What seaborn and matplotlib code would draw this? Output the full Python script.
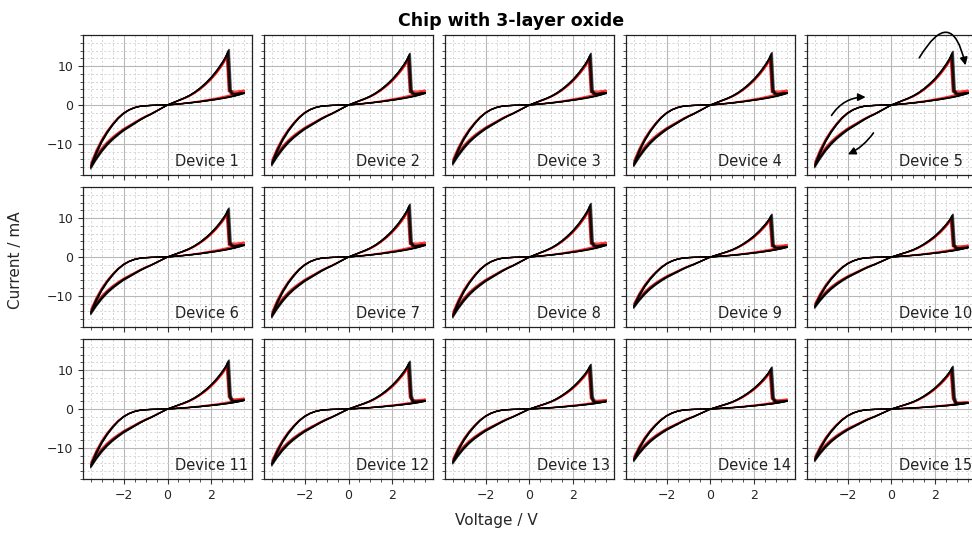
import numpy as np
import pandas as pd
import matplotlib
matplotlib.use("Agg")
import matplotlib.pyplot as plt
from matplotlib.ticker import MultipleLocator
import seaborn as sns

# Readings: one typical sweep (device 1 shape)
# 0 -> +3.5 V on the high state, reset near 2.75 V
POS_HIGH_V = [0.0, 0.25, 0.5, 0.75, 1.0, 1.25, 1.5, 1.75, 2.0, 2.25, 2.5, 2.65, 2.75]
POS_HIGH_I = [0.0, 0.6, 1.2, 1.8, 2.5, 3.4, 4.5, 5.8, 7.3, 9.1, 11.2, 12.7, 14.1]
# after the reset, up to +3.5 V
POS_AFTER_V = [2.84, 2.92, 3.1, 3.3, 3.5]
POS_AFTER_I = [7.5, 2.9, 2.85, 2.95, 3.05]
# +3.5 V -> 0 on the low state
POS_LOW_V = [3.5, 3.25, 3.0, 2.75, 2.5, 2.25, 2.0, 1.75, 1.5, 1.25, 1.0, 0.75, 0.5, 0.25, 0.0]
POS_LOW_I = [3.0, 2.6, 2.25, 1.95, 1.7, 1.45, 1.25, 1.05, 0.85, 0.68, 0.52, 0.38, 0.25, 0.12, 0.0]
# 0 -> -3.5 V
NEG_HIGH_V = [0.0, -0.25, -0.5, -0.75, -1.0, -1.25, -1.5, -1.75, -2.0, -2.25, -2.5, -2.75, -3.0, -3.25, -3.5]
NEG_HIGH_I = [0.0, -0.8, -1.6, -2.4, -3.1, -3.9, -4.8, -5.7, -6.6, -7.7, -8.9, -10.3, -12.0, -14.0, -16.3]
# -3.5 V -> 0
NEG_LOW_V = [-3.5, -3.25, -3.0, -2.75, -2.5, -2.25, -2.0, -1.75, -1.5, -1.25, -1.0, -0.75, -0.5, -0.25, 0.0]
NEG_LOW_I = [-16.3, -12.6, -9.6, -7.2, -5.2, -3.5, -2.2, -1.3, -0.7, -0.35, -0.2, -0.12, -0.07, -0.03, 0.0]
BASE_PEAK, BASE_END, BASE_MIN = 14.1, 3.0, -16.3

# per device: peak current, current at +3.5 V, current at -3.5 V (mA)
devices = list(range(1, 16))
peak_current = [14.3, 13.3, 13.3, 13.5, 13.8, 12.6, 13.6, 13.8, 11.0, 11.0, 12.6, 12.3, 11.5, 10.8, 11.0]
end_current = [3.0, 3.0, 3.0, 3.0, 3.0, 3.0, 3.0, 3.0, 2.5, 2.4, 2.2, 2.0, 1.9, 2.0, 1.5]
min_current = [-16.2, -15.4, -15.2, -15.6, -15.9, -14.6, -15.4, -15.4, -13.0, -13.0,
               -14.9, -14.4, -13.9, -13.3, -13.3]

# cycle to cycle spread (black cycles, then red cycles)
black_peak = [0.9, 0.93, 0.95, 0.97, 0.98, 0.99, 1.0, 1.0]
black_min = [0.95, 0.97, 0.98, 0.99, 1.0, 1.0, 1.01, 1.02]
black_end = [0.97, 0.98, 1.0, 1.0, 1.01, 1.02, 1.03, 1.05]
black_reset = [2.7, 2.72, 2.74, 2.76, 2.77, 2.78, 2.8, 2.82]
red_peak = [0.85, 0.88, 0.92]
red_min = [0.92, 0.96, 0.99]
red_end = [1.25, 1.15, 1.05]
red_reset = [2.68, 2.72, 2.75]


def sweep(k, pk, mn, en, vr):
    sp = peak_current[k] / BASE_PEAK * pk
    sn = min_current[k] / BASE_MIN * mn
    se = end_current[k] / BASE_END * en
    v = ([x * vr / 2.75 for x in POS_HIGH_V]
         + [x - 2.75 + vr for x in POS_AFTER_V[:2]] + POS_AFTER_V[2:]
         + POS_LOW_V[1:] + NEG_HIGH_V[1:] + NEG_LOW_V[1:])
    i = ([x * sp for x in POS_HIGH_I]
         + [POS_AFTER_I[0] * sp / 1.9] + [x * se for x in POS_AFTER_I[1:]]
         + [x * se for x in POS_LOW_I[1:]]
         + [x * sn for x in NEG_HIGH_I[1:]] + [x * sn for x in NEG_LOW_I[1:]])
    return v, i


def cycles_frame(k, pks, mns, ens, vrs):
    rows = []
    for c, (pk, mn, en, vr) in enumerate(zip(pks, mns, ens, vrs)):
        v, i = sweep(k, pk, mn, en, vr)
        rows.append(pd.DataFrame({"V": v, "I": i, "cycle": c}))
    return pd.concat(rows, ignore_index=True)


sns.set_style("ticks")
plt.rcParams["font.family"] = ["DejaVu Sans"]

fig, axes = plt.subplots(3, 5, figsize=(9.72, 5.34), dpi=100, sharex=True, sharey=True)
fig.subplots_adjust(left=0.0854, right=1.0041, top=0.9345, bottom=0.103,
                    wspace=0.071, hspace=0.086)

for k, ax in enumerate(axes.flat):
    df_red = cycles_frame(k, red_peak, red_min, red_end, red_reset)
    df_black = cycles_frame(k, black_peak, black_min, black_end, black_reset)
    sns.lineplot(data=df_red, x="V", y="I", units="cycle", estimator=None, sort=False,
                 color="red", lw=0.9, alpha=0.75, ax=ax, legend=False)
    sns.lineplot(data=df_black, x="V", y="I", units="cycle", estimator=None, sort=False,
                 color="black", lw=0.9, alpha=0.5, ax=ax, legend=False)
    ax.set(xlabel="", ylabel="")
    ax.set_xlim(-3.85, 3.85)
    ax.set_ylim(-18, 18)
    ax.xaxis.set_major_locator(MultipleLocator(2))
    ax.xaxis.set_minor_locator(MultipleLocator(0.5))
    ax.yaxis.set_major_locator(MultipleLocator(10))
    ax.yaxis.set_minor_locator(MultipleLocator(2))
    ax.grid(which="major", color="#b8b8b8", lw=0.8)
    ax.grid(which="minor", color="#d0d0d0", lw=0.6, ls=(0, (2.5, 2.5)))
    ax.set_axisbelow(True)
    ax.tick_params(which="major", length=3.5, width=0.8, labelsize=9, color="#333333")
    ax.tick_params(which="minor", length=2, width=0.6, color="#333333")
    for s in ax.spines.values():
        s.set_color("#222222")
        s.set_linewidth(0.9)
    ax.text(0.545, 0.095, f"Device {devices[k]}", transform=ax.transAxes,
            ha="left", va="center", fontsize=10.5, color="#222222")

# sweep direction arrows on device 5
ax5 = axes[0, 4]
arrow = dict(arrowstyle="-|>", color="black", lw=1.2, mutation_scale=11)
ax5.annotate("", xy=(3.4, 9.5), xytext=(1.2, 11.5),
             arrowprops=dict(arrow, connectionstyle="arc3,rad=-1.3"), annotation_clip=False)
ax5.annotate("", xy=(-1.05, 2.0), xytext=(-2.8, -3.3),
             arrowprops=dict(arrow, connectionstyle="arc3,rad=-0.3"))
ax5.annotate("", xy=(-2.1, -13.0), xytext=(-0.75, -6.6),
             arrowprops=dict(arrow, connectionstyle="arc3,rad=-0.15"))

fig.suptitle("Chip with 3-layer oxide", x=0.526, y=0.978, fontsize=12.5, fontweight="bold",
             color="black")
fig.text(0.511, 0.026, "Voltage / V", ha="center", va="center", fontsize=11)
fig.text(0.016, 0.513, "Current / mA", ha="center", va="center", rotation=90, fontsize=11)

plt.savefig("out.png", dpi=100)
